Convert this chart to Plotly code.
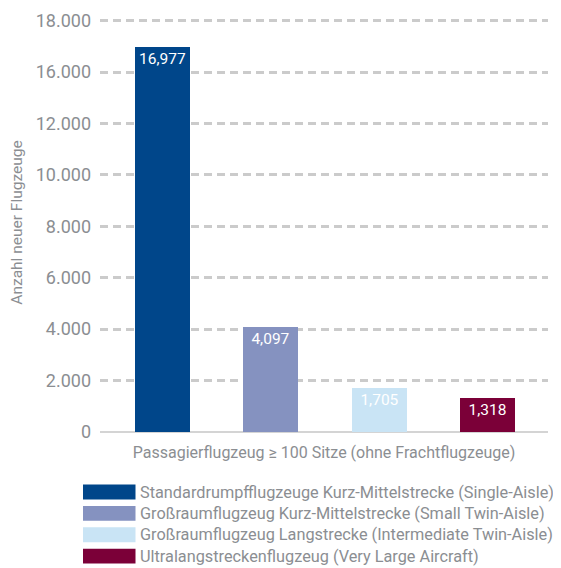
import plotly.graph_objects as go

# ---- data ----
categories = [
    "Standardrumpfflugzeuge Kurz-Mittelstrecke (Single-Aisle)",
    "Großraumflugzeug Kurz-Mittelstrecke (Small Twin-Aisle)",
    "Großraumflugzeug Langstrecke (Intermediate Twin-Aisle)",
    "Ultralangstreckenflugzeug (Very Large Aircraft)",
]
values = [16977, 4097, 1705, 1318]
colors = ["#00468a", "#8592c0", "#c9e4f5", "#7b0038"]
tick_values = [0, 2000, 4000, 6000, 8000, 10000, 12000, 16000, 18000]
y_title = "Anzahl neuer Flugzeuge"
x_title = "Passagierflugzeug ≥ 100 Sitze (ohne Frachtflugzeuge)"

# broken value axis: 12.000 -> 16.000 shown as one grid step
BREAK_LO, BREAK_HI, STEP = 12000, 16000, 2000


def to_axis(v):
    if v <= BREAK_LO:
        return v
    return v - (BREAK_HI - BREAK_LO - STEP)


def de_fmt(v):
    return f"{v:,}".replace(",", ".")


FONT = "Roboto"
GRAY = "#8b8e92"

# page body has an 8px margin; size figure to fit the 561x568 window
OFF = 8
W, H = 561 - OFF, 568 - OFF
ML, MR, MT, MB = 92, 13, 2, 136
plot_w = W - ML - MR
plot_h = H - MT - MB

fig = go.Figure()
for i, (cat, v, c) in enumerate(zip(categories, values, colors)):
    fig.add_trace(go.Bar(
        x=[i], y=[to_axis(v)], name=cat,
        marker=dict(color=c, line=dict(width=0)),
        width=0.508,
        text=[f"{v:,}"], textposition="inside", insidetextanchor="end",
        textfont=dict(family=FONT, size=15.5, color="white"),
        textangle=0, showlegend=False, hoverinfo="skip",
    ))

fig.update_layout(
    width=W, height=H,
    margin=dict(l=ML, r=MR, t=MT, b=MB),
    paper_bgcolor="white", plot_bgcolor="white",
    font=dict(family=FONT, color=GRAY),
    bargap=0,
)
fig.update_xaxes(
    range=[-0.577, 3.56], showticklabels=False, showgrid=False,
    zeroline=False, showline=False, ticks="",
    title=dict(text=x_title, font=dict(size=16, color=GRAY), standoff=14),
)
fig.update_yaxes(
    range=[0, to_axis(18000) + 300],
    tickvals=[to_axis(t) for t in tick_values],
    ticktext=[de_fmt(t) for t in tick_values],
    tickfont=dict(size=18, color=GRAY),
    ticklabeloverflow="allow",
    showgrid=True, gridcolor="#cbcbcb", gridwidth=3, griddash="8px,5px",
    zeroline=True, zerolinecolor="#d4d4d4", zerolinewidth=2,
    ticks="", ticklabelstandoff=8,
    title=dict(text=y_title, font=dict(size=15.5, color=GRAY), standoff=14),
)


def px_to_paper_x(px):
    return (px - OFF - ML) / plot_w


def px_to_paper_y(py):
    return (H - MB - (py - OFF)) / plot_h


# legend drawn as wide swatches below the plot (window pixel coords)
row_y0 = 492.5
row_step = 21.5
for i, (cat, c) in enumerate(zip(categories, colors)):
    cy = row_y0 + i * row_step
    fig.add_shape(type="rect", xref="paper", yref="paper",
                  x0=px_to_paper_x(83), x1=px_to_paper_x(135.5),
                  y0=px_to_paper_y(cy + 7.5), y1=px_to_paper_y(cy - 7.5),
                  fillcolor=c, line=dict(width=0), layer="above")
    fig.add_annotation(xref="paper", yref="paper",
                       x=px_to_paper_x(138), y=px_to_paper_y(cy),
                       text=cat, showarrow=False, xanchor="left", yanchor="middle",
                       font=dict(family=FONT, size=16.3, color=GRAY))

fig.write_html("out.html")
